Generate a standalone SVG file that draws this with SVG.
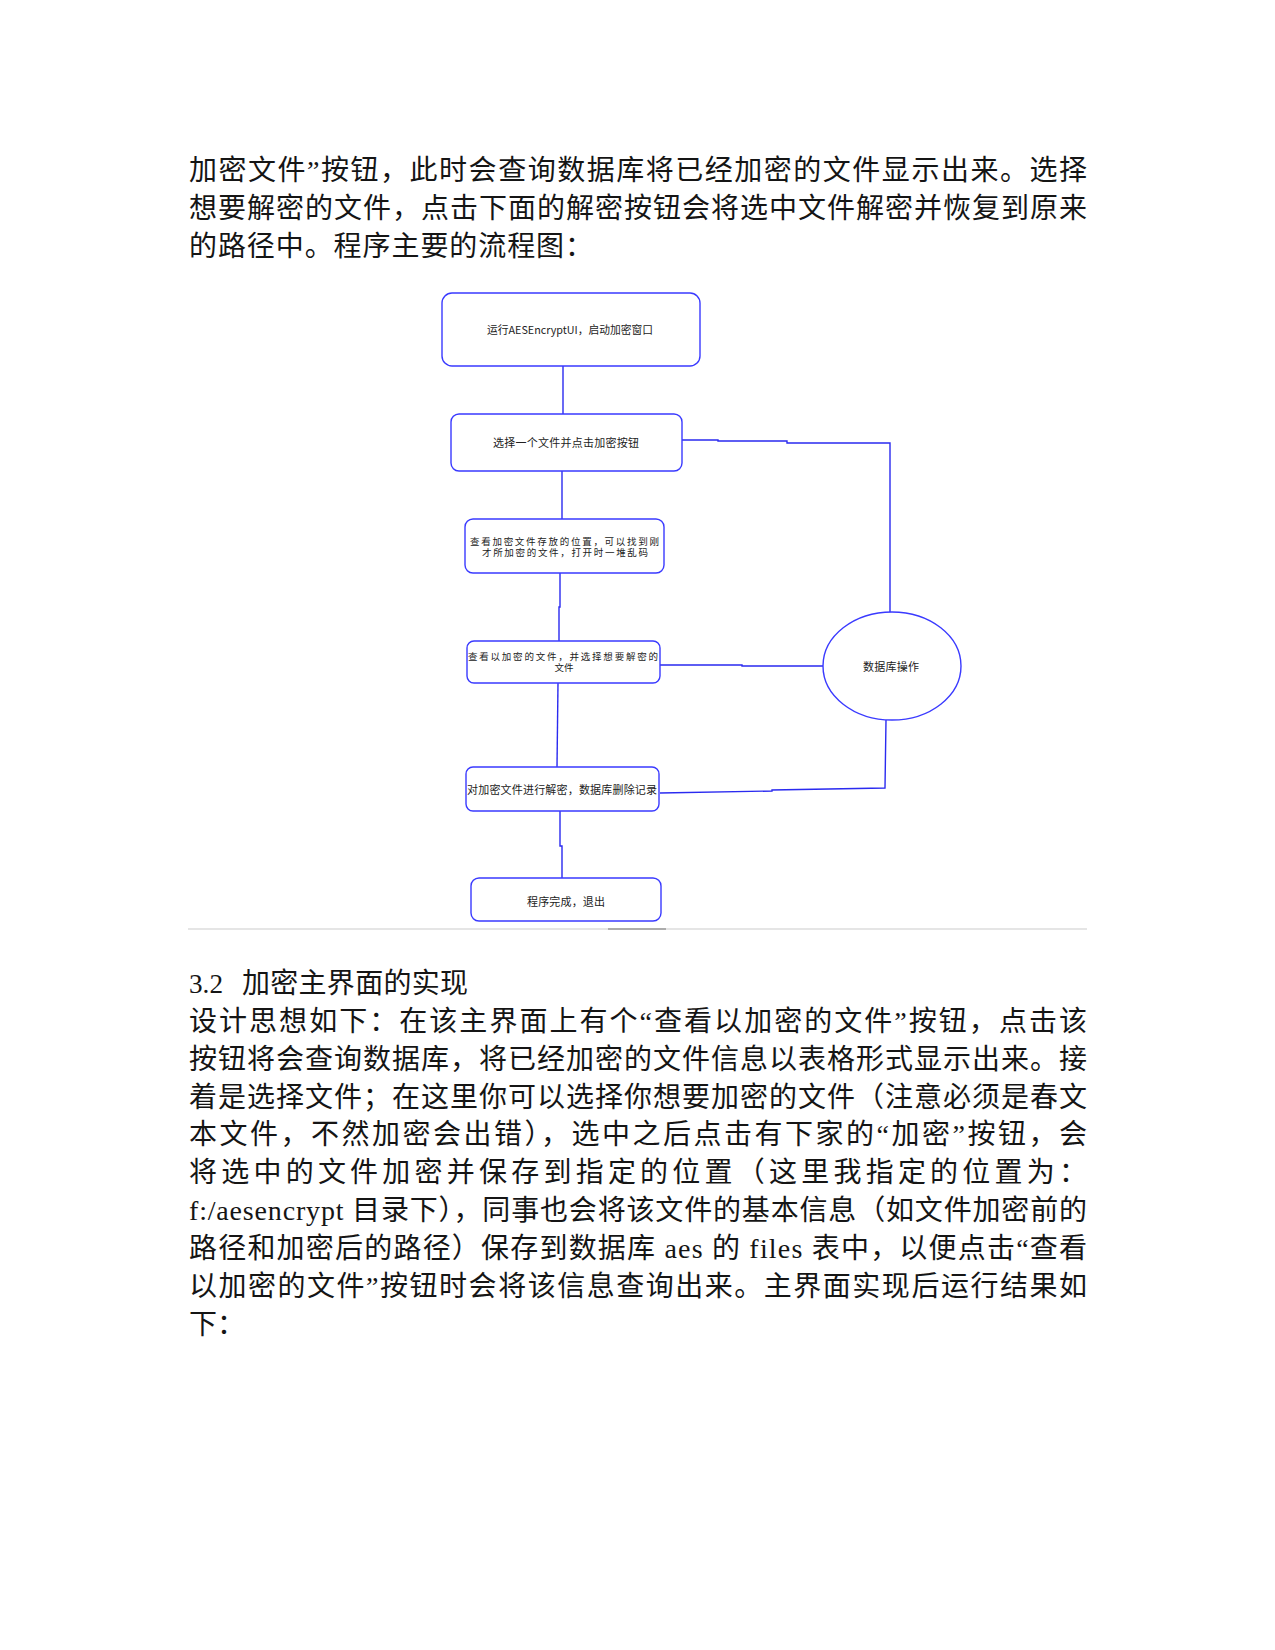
<svg xmlns="http://www.w3.org/2000/svg" width="1275" height="1650" viewBox="0 0 1275 1650">
<style>
.body{font-family:"Liberation Serif","Noto Sans CJK SC",serif;font-size:28px;fill:#151515;}
.box{fill:#fff;stroke:#3a3aff;stroke-width:1.4;}
.conn{fill:none;stroke:#2a2af0;stroke-width:1.4;}
.lbl{font-family:"Noto Sans CJK SC",sans-serif;font-size:11px;fill:#222;}
.lbl2{font-family:"Noto Sans CJK SC",sans-serif;font-size:9.5px;fill:#222;}
</style>
<rect width="1275" height="1650" fill="#fff"/>
<g id="para1" class="body">
<text x="189" y="180" textLength="898" lengthAdjust="spacing">加密文件”按钮，此时会查询数据库将已经加密的文件显示出来。选择</text>
<text x="189" y="218" textLength="898" lengthAdjust="spacing">想要解密的文件，点击下面的解密按钮会将选中文件解密并恢复到原来</text>
<text x="189" y="256" textLength="404" lengthAdjust="spacing">的路径中。程序主要的流程图：</text>
</g>
<g id="connectors">
<polyline class="conn" points="563,366 563,414"/>
<polyline class="conn" points="562,471 562,519"/>
<polyline class="conn" points="560,573 560,607 559,607 559,641"/>
<polyline class="conn" points="558,683 557,767"/>
<polyline class="conn" points="560,811 560,846 562,846 562,878"/>
<polyline class="conn" points="682,440 718,440 718,441 787,441 787,443 890,443 890,612"/>
<polyline class="conn" points="660,665 742,665 742,666 823,666"/>
<polyline class="conn" points="886,720 885,788 772,790 772,791 660,793"/>
</g>
<g id="n1"><rect class="box" x="442" y="293" width="258" height="73" rx="10"/><text class="lbl" x="487" y="334" textLength="166" lengthAdjust="spacingAndGlyphs">运行AESEncryptUI，启动加密窗口</text></g>
<g id="n2"><rect class="box" x="451" y="414" width="231" height="57" rx="8"/><text class="lbl" x="493" y="447" textLength="146" lengthAdjust="spacing">选择一个文件并点击加密按钮</text></g>
<g id="n3"><rect class="box" x="465" y="519" width="199" height="54" rx="8"/><text class="lbl2" x="470" y="545" textLength="189" lengthAdjust="spacing">查看加密文件存放的位置，可以找到刚</text><text class="lbl2" x="482" y="556" textLength="166" lengthAdjust="spacing">才所加密的文件，打开时一堆乱码</text></g>
<g id="n4"><rect class="box" x="467" y="641" width="193" height="42" rx="7"/><text class="lbl2" x="468" y="660" textLength="190" lengthAdjust="spacing">查看以加密的文件，并选择想要解密的</text><text class="lbl2" x="564" y="671" text-anchor="middle">文件</text></g>
<g id="n5"><rect class="box" x="466" y="767" width="193" height="44" rx="7"/><text class="lbl" x="467" y="794" textLength="190" lengthAdjust="spacing">对加密文件进行解密，数据库删除记录</text></g>
<g id="n6"><rect class="box" x="471" y="878" width="190" height="43" rx="8"/><text class="lbl" x="527" y="906" textLength="78" lengthAdjust="spacing">程序完成，退出</text></g>
<g id="n7"><ellipse class="box" cx="892" cy="666" rx="69" ry="54"/><text class="lbl" x="863" y="671" textLength="56" lengthAdjust="spacing">数据库操作</text></g>
<line x1="188" y1="929" x2="1087" y2="929" stroke="#dcdcdc" stroke-width="1.5"/>
<line x1="608" y1="929" x2="666" y2="929" stroke="#999" stroke-width="1.5"/>
<g id="para2" class="body">
<text x="189" y="993" textLength="34" lengthAdjust="spacingAndGlyphs">3.2</text>
<text x="242" y="993" textLength="226" lengthAdjust="spacing">加密主界面的实现</text>
<text x="189" y="1031" textLength="898" lengthAdjust="spacing">设计思想如下：在该主界面上有个“查看以加密的文件”按钮，点击该</text>
<text x="189" y="1069" textLength="898" lengthAdjust="spacing">按钮将会查询数据库，将已经加密的文件信息以表格形式显示出来。接</text>
<text x="189" y="1107" textLength="898" lengthAdjust="spacing">着是选择文件；在这里你可以选择你想要加密的文件（注意必须是春文</text>
<text x="189" y="1144" textLength="898" lengthAdjust="spacing">本文件，不然加密会出错），选中之后点击有下家的“加密”按钮，会</text>
<text x="189" y="1182" textLength="898" lengthAdjust="spacing">将选中的文件加密并保存到指定的位置（这里我指定的位置为：</text>
<text x="189" y="1220" textLength="898" lengthAdjust="spacing">f:/aesencrypt 目录下），同事也会将该文件的基本信息（如文件加密前的</text>
<text x="189" y="1258" textLength="898" lengthAdjust="spacing">路径和加密后的路径）保存到数据库 aes 的 files 表中，以便点击“查看</text>
<text x="189" y="1296" textLength="898" lengthAdjust="spacing">以加密的文件”按钮时会将该信息查询出来。主界面实现后运行结果如</text>
<text x="189" y="1334">下：</text>
</g>
</svg>
